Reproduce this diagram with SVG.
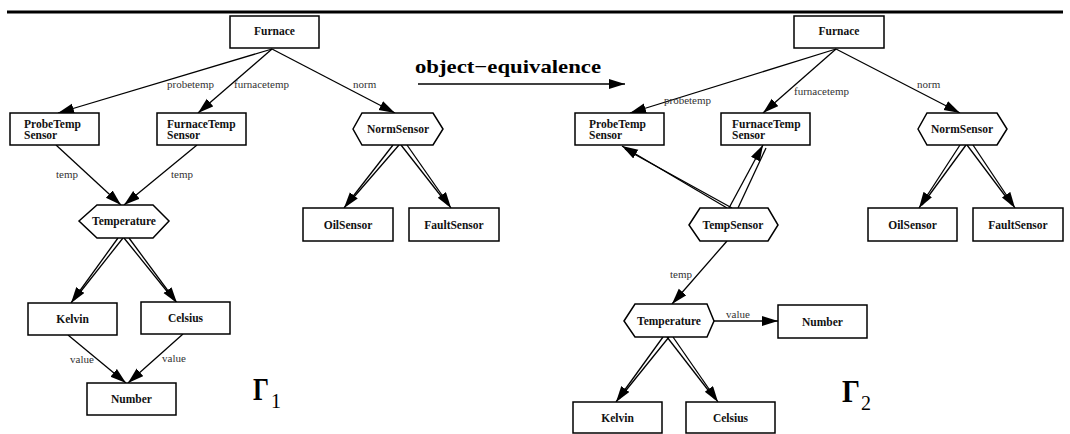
<svg xmlns="http://www.w3.org/2000/svg" width="1070" height="434" viewBox="0 0 1070 434">
<defs>
<marker id="ah" markerUnits="userSpaceOnUse" markerWidth="17" markerHeight="11" refX="16" refY="5" orient="auto">
<path d="M0,0 L16,5 L0,10 z" fill="#000"/>
</marker>
<style>
.box{fill:#fff;stroke:#000;stroke-width:1.5}
.nt{font-family:"Liberation Serif",serif;font-weight:bold;font-size:11.5px;fill:#111}
.el{font-family:"Liberation Serif",serif;font-size:11px;fill:#333}
.e{stroke:#000;stroke-width:1.3;fill:none}
.ea{stroke:#000;stroke-width:1.3;fill:none;marker-end:url(#ah)}
</style>
</defs>
<rect width="1070" height="434" fill="#fff"/>
<line x1="7" y1="12" x2="1063" y2="12" stroke="#000" stroke-width="3"/>

<g id="connectors">
<!-- left -->
<line class="ea" x1="272" y1="49" x2="58" y2="113"/>
<line class="ea" x1="272" y1="49" x2="198" y2="113"/>
<line class="ea" x1="272" y1="49" x2="395" y2="113"/>
<line class="ea" x1="56" y1="145" x2="121" y2="205"/>
<line class="ea" x1="197" y1="145" x2="124" y2="205"/>
<line class="ea" x1="393" y1="145" x2="344" y2="208"/>
<line class="e" x1="399" y1="145" x2="347" y2="205"/>
<line class="ea" x1="407" y1="145" x2="451" y2="208"/>
<line class="e" x1="401" y1="145" x2="448" y2="205"/>
<line class="ea" x1="118" y1="238" x2="71" y2="303"/>
<line class="e" x1="123" y1="238" x2="74" y2="300"/>
<line class="ea" x1="129" y1="238" x2="177" y2="303"/>
<line class="e" x1="124" y1="238" x2="174" y2="300"/>
<line class="ea" x1="68" y1="335" x2="126" y2="383"/>
<line class="ea" x1="183" y1="334" x2="128" y2="383"/>
<!-- middle -->
<line class="ea" x1="418" y1="84" x2="625" y2="84"/>
<!-- right -->
<line class="ea" x1="836" y1="49" x2="630" y2="113"/>
<line class="ea" x1="836" y1="49" x2="763" y2="113"/>
<line class="ea" x1="836" y1="49" x2="960" y2="113"/>
<line class="ea" x1="960" y1="145" x2="919" y2="208"/>
<line class="e" x1="966" y1="145" x2="922" y2="205"/>
<line class="ea" x1="973" y1="145" x2="1015" y2="208"/>
<line class="e" x1="967" y1="145" x2="1012" y2="205"/>
<line class="ea" x1="727" y1="208" x2="622" y2="146"/>
<line class="e" x1="732" y1="208" x2="625" y2="149"/>
<line class="ea" x1="729" y1="208" x2="763" y2="145"/>
<line class="e" x1="738" y1="208" x2="766" y2="148"/>
<line class="ea" x1="727" y1="241" x2="672" y2="304"/>
<line class="ea" x1="714" y1="321" x2="778" y2="321"/>
<line class="ea" x1="663" y1="337" x2="616" y2="402"/>
<line class="e" x1="669" y1="337" x2="619" y2="399"/>
<line class="ea" x1="673" y1="337" x2="718" y2="402"/>
<line class="e" x1="667" y1="337" x2="715" y2="399"/>
<!-- edge labels -->
<text class="el" x="167" y="88">probetemp</text>
<text class="el" x="234" y="88">furnacetemp</text>
<text class="el" x="353" y="88">norm</text>
<text class="el" x="56" y="178">temp</text>
<text class="el" x="171" y="178">temp</text>
<text class="el" x="70" y="363">value</text>
<text class="el" x="162" y="362">value</text>
<text class="el" x="664" y="104">probetemp</text>
<text class="el" x="794" y="95">furnacetemp</text>
<text class="el" x="917" y="88">norm</text>
<text class="el" x="670" y="278">temp</text>
<text class="el" x="726" y="318">value</text>
</g>

<text x="415" y="73" font-family="'Liberation Serif',serif" font-weight="bold" font-size="19" textLength="186" lengthAdjust="spacingAndGlyphs">object−equivalence</text>

<!-- left graph nodes -->
<g id="l-furnace"><rect class="box" x="230" y="16" width="89" height="32"/><text class="nt" x="274.5" y="35" text-anchor="middle">Furnace</text></g>
<g id="l-probetemp"><rect class="box" x="10" y="113" width="89" height="32"/><text class="nt" x="24" y="128">ProbeTemp</text><text class="nt" x="24" y="139">Sensor</text></g>
<g id="l-furnacetemp"><rect class="box" x="157" y="113" width="89" height="32"/><text class="nt" x="167" y="128">FurnaceTemp</text><text class="nt" x="167" y="139">Sensor</text></g>
<g id="l-normsensor"><polygon class="box" points="353,129 362,113 433,113 443,129 433,145 362,145"/><text class="nt" x="398" y="133" text-anchor="middle">NormSensor</text></g>
<g id="l-oilsensor"><rect class="box" x="303" y="208" width="90" height="33"/><text class="nt" x="348" y="228.5" text-anchor="middle">OilSensor</text></g>
<g id="l-faultsensor"><rect class="box" x="409" y="208" width="90" height="33"/><text class="nt" x="454" y="228.5" text-anchor="middle">FaultSensor</text></g>
<g id="l-temperature"><polygon class="box" points="79,221 97,205 153,205 169,221 153,238 97,238"/><text class="nt" x="124" y="225" text-anchor="middle">Temperature</text></g>
<g id="l-kelvin"><rect class="box" x="28" y="303" width="89" height="32"/><text class="nt" x="72.5" y="323" text-anchor="middle">Kelvin</text></g>
<g id="l-celsius"><rect class="box" x="141" y="302" width="89" height="32"/><text class="nt" x="185.5" y="322" text-anchor="middle">Celsius</text></g>
<g id="l-number"><rect class="box" x="87" y="383" width="89" height="32"/><text class="nt" x="131.5" y="403" text-anchor="middle">Number</text></g>
<g id="gamma1"><text x="253" y="400" font-family="'Liberation Serif',serif" font-weight="bold" font-size="31" textLength="16" lengthAdjust="spacingAndGlyphs">Γ</text><text x="271" y="408" font-family="'Liberation Serif',serif" font-size="20">1</text></g>

<!-- right graph nodes -->
<g id="r-furnace"><rect class="box" x="794" y="16" width="90" height="32"/><text class="nt" x="839" y="35" text-anchor="middle">Furnace</text></g>
<g id="r-probetemp"><rect class="box" x="575" y="113" width="89" height="32"/><text class="nt" x="589" y="128">ProbeTemp</text><text class="nt" x="589" y="139">Sensor</text></g>
<g id="r-furnacetemp"><rect class="box" x="721" y="113" width="89" height="32"/><text class="nt" x="732" y="128">FurnaceTemp</text><text class="nt" x="732" y="139">Sensor</text></g>
<g id="r-normsensor"><polygon class="box" points="918,129 927,113 997,113 1007,129 997,145 927,145"/><text class="nt" x="962" y="133" text-anchor="middle">NormSensor</text></g>
<g id="r-oilsensor"><rect class="box" x="868" y="208" width="89" height="33"/><text class="nt" x="912.5" y="228.5" text-anchor="middle">OilSensor</text></g>
<g id="r-faultsensor"><rect class="box" x="973" y="208" width="90" height="33"/><text class="nt" x="1018" y="228.5" text-anchor="middle">FaultSensor</text></g>
<g id="r-tempsensor"><polygon class="box" points="689,225 700,208 768,208 778,225 768,241 700,241"/><text class="nt" x="733" y="229" text-anchor="middle">TempSensor</text></g>
<g id="r-temperature"><polygon class="box" points="624,321 635,304 707,304 714,321 707,337 635,337"/><text class="nt" x="669" y="325" text-anchor="middle">Temperature</text></g>
<g id="r-number"><rect class="box" x="778" y="305" width="89" height="33"/><text class="nt" x="822.5" y="325.5" text-anchor="middle">Number</text></g>
<g id="r-kelvin"><rect class="box" x="573" y="402" width="89" height="31"/><text class="nt" x="617.5" y="421.5" text-anchor="middle">Kelvin</text></g>
<g id="r-celsius"><rect class="box" x="686" y="402" width="89" height="31"/><text class="nt" x="730.5" y="421.5" text-anchor="middle">Celsius</text></g>
<g id="gamma2"><text x="842" y="402" font-family="'Liberation Serif',serif" font-weight="bold" font-size="31" textLength="18" lengthAdjust="spacingAndGlyphs">Γ</text><text x="861" y="410" font-family="'Liberation Serif',serif" font-size="20">2</text></g>
</svg>
